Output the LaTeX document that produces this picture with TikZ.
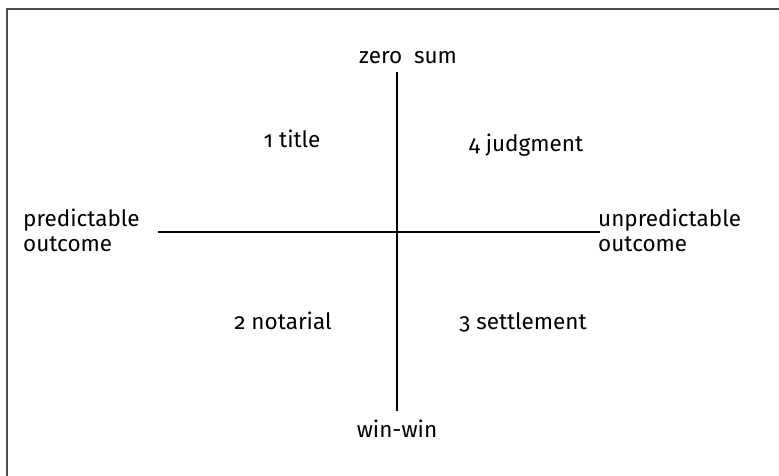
\documentclass[tikz,border=0pt]{standalone}
\usepackage{fontspec}
\setmainfont{Fira Sans}[Numbers=OldStyle]
\usepackage{tikz}
\usetikzlibrary{positioning}

\begin{document}
\begin{tikzpicture}[x=1pt, y=-1pt, font=\fontsize{22.5}{25}\selectfont,
    lbl/.style={inner sep=0pt, anchor=base},
    side/.style={inner sep=0pt, anchor=base west, align=left}]
  \useasboundingbox (0,0) rectangle (779,476);

  % frame (open on the right and at the bottom)
  \draw[black!70, line width=2pt] (7,476) -- (7,9) -- (779,9);

  % axis ends
  \coordinate (top) at (397,72);
  \coordinate (bot) at (397,411);
  \coordinate (lft) at (158,232);
  \coordinate (rgt) at (600,232);
  \draw[line width=1.3pt] (top) -- (bot);
  \draw[line width=1.1pt] (lft) -- (rgt);

  % axis labels
  \node[lbl] (zerosum) at (408,64) {zero\ \ sum};
  \node[lbl] (winwin) at (397,437) {win-win};
  \node[side] (pred) at (23,251) {predictable\\outcome};
  \node[side] (unpred) at (598,251) {unpredictable\\outcome};

  % quadrants
  \node[lbl] (title) at (292,147) {1 title};
  \node[lbl] (judgment) at (526,152) {4 judgment};
  \node[lbl] (notarial) at (283,329) {2 notarial};
  \node[lbl] (settlement) at (523,329) {3 settlement};
\end{tikzpicture}
\end{document}
